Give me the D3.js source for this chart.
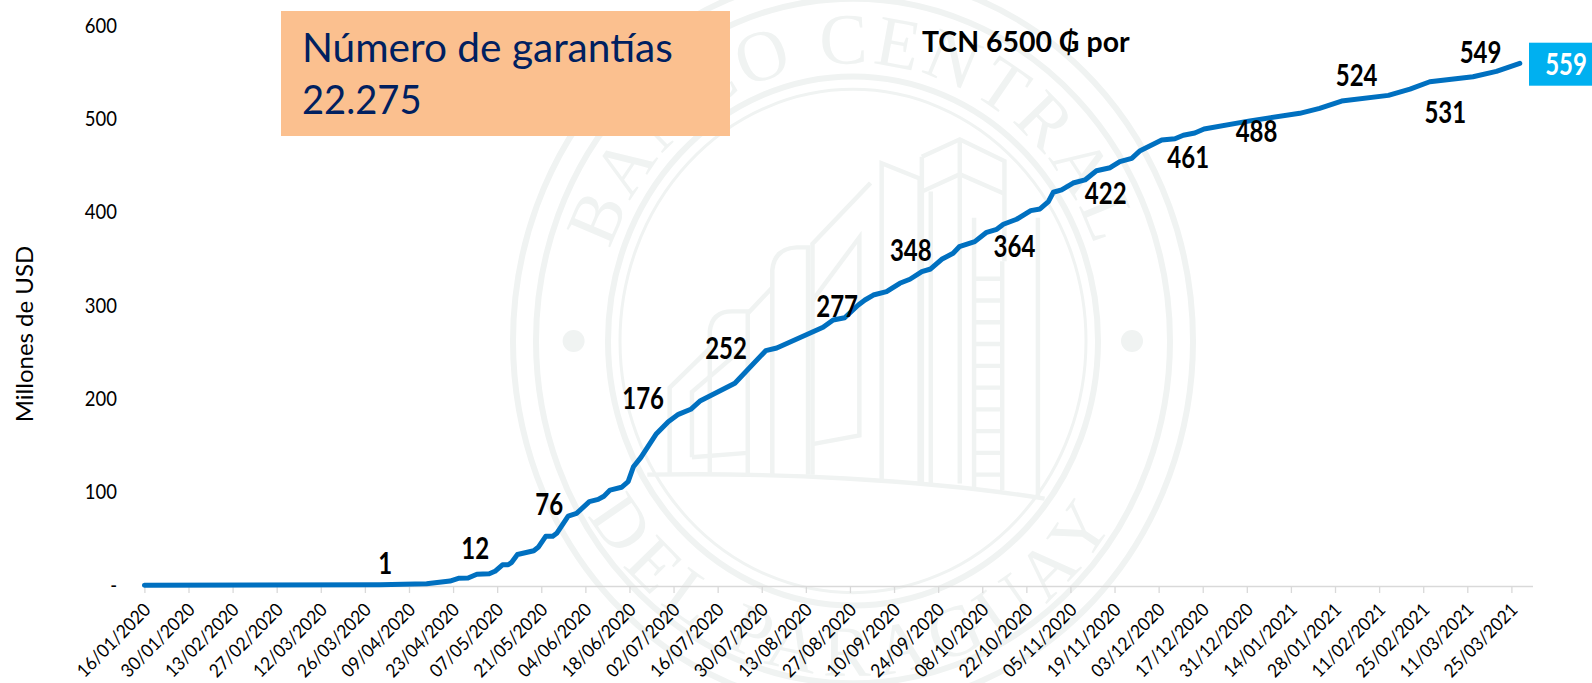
<!DOCTYPE html>
<html><head><meta charset="utf-8">
<script src="https://cdn.jsdelivr.net/npm/d3@7/dist/d3.min.js"></script>
<style>html,body{margin:0;padding:0;background:#fff;overflow:hidden}svg{display:block}text{font-family:Lato,"Open Sans",sans-serif}</style>
</head><body><svg id="c" width="1592" height="683"></svg>
<script>
const tickLabels = ["16/01/2020","30/01/2020","13/02/2020","27/02/2020","12/03/2020","26/03/2020","09/04/2020","23/04/2020","07/05/2020","21/05/2020","04/06/2020","18/06/2020","02/07/2020","16/07/2020","30/07/2020","13/08/2020","27/08/2020","10/09/2020","24/09/2020","08/10/2020","22/10/2020","05/11/2020","19/11/2020","03/12/2020","17/12/2020","31/12/2020","14/01/2021","28/01/2021","11/02/2021","25/02/2021","11/03/2021","25/03/2021"];
const yTicks = [0,100,200,300,400,500,600];
// observation position (10 units per labelled tick) and guarantees, millions of USD
const obsPos = [0,53.4,64,69.3,71.2,73.4,75.4,78.2,79.5,81.2,82.5,83.3,84.6,88.3,89.3,91,92.6,93.5,96.1,98,100.9,102.9,104.2,105.6,108.2,109.7,110.9,112.6,116,118.8,121.1,123.9,126.1,133.9,140.9,143.4,153.9,156.2,158.8,161.9,163.4,165.3,168.3,171.3,173.6,176.3,178.3,180.8,183.4,184.8,188.3,191,193.3,194.8,197.8,201,203.1,205,206.1,208,210.6,213.3,215.9,219,221.2,223.9,225.8,230.7,233.7,235.6,238.2,240.3,250.7,262,266.5,271.5,282.1,287,291.5,301.3,306.6,311.9];
const obsVal = [0,0.6,1.7,4.6,7.5,7.8,11.8,12.4,15,22,22,24.6,33,37,40.7,52.5,52.5,55.7,74.2,77,89.6,92,95.4,102,105,111,127,137,161.8,175.3,183.2,188.6,197.8,216.4,251.4,254.3,276.4,284.3,286.7,300.3,305.7,311,314.6,323.6,327.9,336,338.9,349.3,355.7,362.8,368.2,378.2,381.4,386.8,392.2,401.4,403.2,411,421.1,423.6,431,434.3,444.2,447.4,453.9,457.5,465.7,477,478.5,482.2,484.6,488.9,497.6,505.7,511,518.8,524.9,531.6,539.5,544.9,550.6,559.2];
const labelText = ["1","12","76","176","252","277","348","364","422","461","488","524","531","549"];
const labelPos = [54.6,75,91.8,113.1,131.9,157.1,173.8,197.3,218,236.7,252.2,274.9,295,303];
const labelLevel = [24.1,39.7,87.1,200.3,253.9,299.2,359,363.7,420,459.2,486.7,546.1,506.4,571.1];
const lastValue = 559;
const boxLines = ["Número de garantías","22.275"];
const noteText = "TCN 6500 ₲ por";
const yTitle = "Millones de USD";

const svg = d3.select("#c");
const x = d3.scaleLinear().domain([0,310]).range([144.4,1511.4]);
const y = d3.scaleLinear().domain([0,600]).range([585.3,25.3]);
const narrow = 0.8;
const wmColor = "#f0f3f2";

// watermark seal
const wm = svg.append("g").attr("fill","none").attr("stroke",wmColor);
const cx=853, cy=341, ratio=1.08;
[[340,6],[317,6],[245,6],[233,3]].forEach(([r,w])=>wm.append("ellipse").attr("cx",cx).attr("cy",cy).attr("rx",r).attr("ry",r*ratio).attr("stroke-width",w));
[[573.6],[1132]].forEach(([px])=>wm.append("ellipse").attr("cx",px).attr("cy",cy).attr("rx",11).attr("ry",11).attr("fill",wmColor).attr("stroke","none"));
const defs = svg.append("defs");
const rt=257;
defs.append("path").attr("id","arcTop").attr("d",`M ${cx-rt} ${cy} A ${rt} ${rt*ratio} 0 0 1 ${cx+rt} ${cy}`);
const rb=310;
defs.append("path").attr("id","arcBot").attr("d",`M ${cx-rb} ${cy} A ${rb} ${rb*ratio} 0 0 0 ${cx+rb} ${cy}`);
const wmText=(id,t,off,ls)=>svg.append("text").style("font-family","'Liberation Serif',serif").attr("font-size",72).attr("fill",wmColor).attr("letter-spacing",ls)
  .append("textPath").attr("href","#"+id).attr("startOffset",off).attr("text-anchor","middle").text(t);
wmText("arcTop","BANCO CENTRAL","50%",4);
wmText("arcBot","DEL PARAGUAY","50%",9);
const bld = svg.append("g").attr("transform","translate(500,0) scale(0.4464,0.4355)").attr("fill","none").attr("stroke",wmColor).attr("stroke-width",10);
["M330 1090 C600 1085 950 1100 1220 1145",
 "M380 1090 V890 L470 800","M470 1090 V760 Q475 715 520 715 H555 V1090","M430 1050 V900 L555 790","M430 1050 L555 1040",
 "M610 1090 V620 Q615 570 665 568 H690 V1090","M555 720 L610 660","M700 1090 V560 L830 420","M700 690 L805 545 V1000 L700 1020",
 "M855 1100 V375 L940 410 V1110","M945 360 L1030 320 L1130 370 V600","M945 360 V1110","M945 440 L1030 400 L1130 445","M965 1110 V440","M1030 320 V1110",
 "M1062 500 V1120 M1125 600 V1125","M1205 500 V1145","M1065 640 H1120 M1065 690 H1120 M1065 740 H1120 M1065 790 H1120 M1065 840 H1120 M1065 890 H1120 M1065 940 H1120 M1065 990 H1120 M1065 1040 H1120 M1065 1090 H1120"
].forEach(d=>bld.append("path").attr("d",d));

// x axis
const gx = svg.append("g").attr("transform","translate(0,586)").call(
  d3.axisBottom(x).tickValues(tickLabels.map((_,i)=>i*10)).tickSizeOuter(0).tickSize(7).tickPadding(0).tickFormat(v=>tickLabels[v/10]));
gx.select(".domain").attr("stroke","#d9d9d9").attr("stroke-width",1.6).attr("d","M144.4 0.5 H1533");
gx.selectAll(".tick line").attr("stroke","#d9d9d9").attr("stroke-width",1.3);
gx.selectAll(".tick text").attr("font-size",18.5).attr("fill","#000").attr("text-anchor","end").attr("y",0).attr("dy",0)
  .attr("transform","translate(7,25) rotate(-45) scale(0.93,1)");

// y axis
const gy = svg.append("g").attr("transform","translate(117,0)").call(
  d3.axisLeft(y).tickValues(yTicks).tickSize(0).tickPadding(0).tickFormat(v=>v===0?"-":String(v)));
gy.select(".domain").remove();
gy.selectAll(".tick text").attr("font-size",21).attr("fill","#000").attr("text-anchor","end").attr("transform","scale(0.88,1)");

svg.append("text").attr("transform","translate(33,334) rotate(-90)").attr("text-anchor","middle").attr("font-size",24).attr("fill","#000").text(yTitle);

// line
const line = d3.line().x(d=>x(d[0])).y(d=>y(d[1])).curve(d3.curveLinear);
svg.append("path").datum(obsPos.map((p,i)=>[p,obsVal[i]])).attr("d",line).attr("fill","none").attr("stroke","#0070c0").attr("stroke-width",5).attr("stroke-linejoin","round").attr("stroke-linecap","round");

// point labels
svg.append("g").selectAll("text").data(labelText).join("text")
  .attr("transform",(d,i)=>`translate(${x(labelPos[i])},${y(labelLevel[i])}) scale(${narrow},1)`)
  .attr("dy","0.36em").attr("text-anchor","middle").attr("font-size",30).attr("font-weight",700).attr("fill","#000").text(d=>d);

// last value badge
const badge = svg.append("g");
badge.append("rect").attr("x",1529).attr("y",42.7).attr("width",63).attr("height",43).attr("fill","#00b0f0");
badge.append("text").attr("transform",`translate(1566,${y(lastValue)+1}) scale(${narrow},1)`).attr("dy","0.36em").attr("text-anchor","middle").attr("font-size",30).attr("font-weight",700).attr("fill","#fff").text(lastValue);

// number of guarantees box
svg.append("rect").attr("x",281).attr("y",11).attr("width",449).attr("height",125).attr("fill","#fbc08f");
svg.append("g").selectAll("text").data(boxLines).join("text")
  .attr("transform",(d,i)=>`translate(302,${i?114:62}) scale(${i?0.93:0.99},1)`).attr("font-size",41).attr("fill","#002060").text(d=>d);

svg.append("text").attr("transform","translate(922,52) scale(0.98,1)").attr("font-size",29).attr("font-weight",700).attr("fill","#000").text(noteText);
</script></body></html>
